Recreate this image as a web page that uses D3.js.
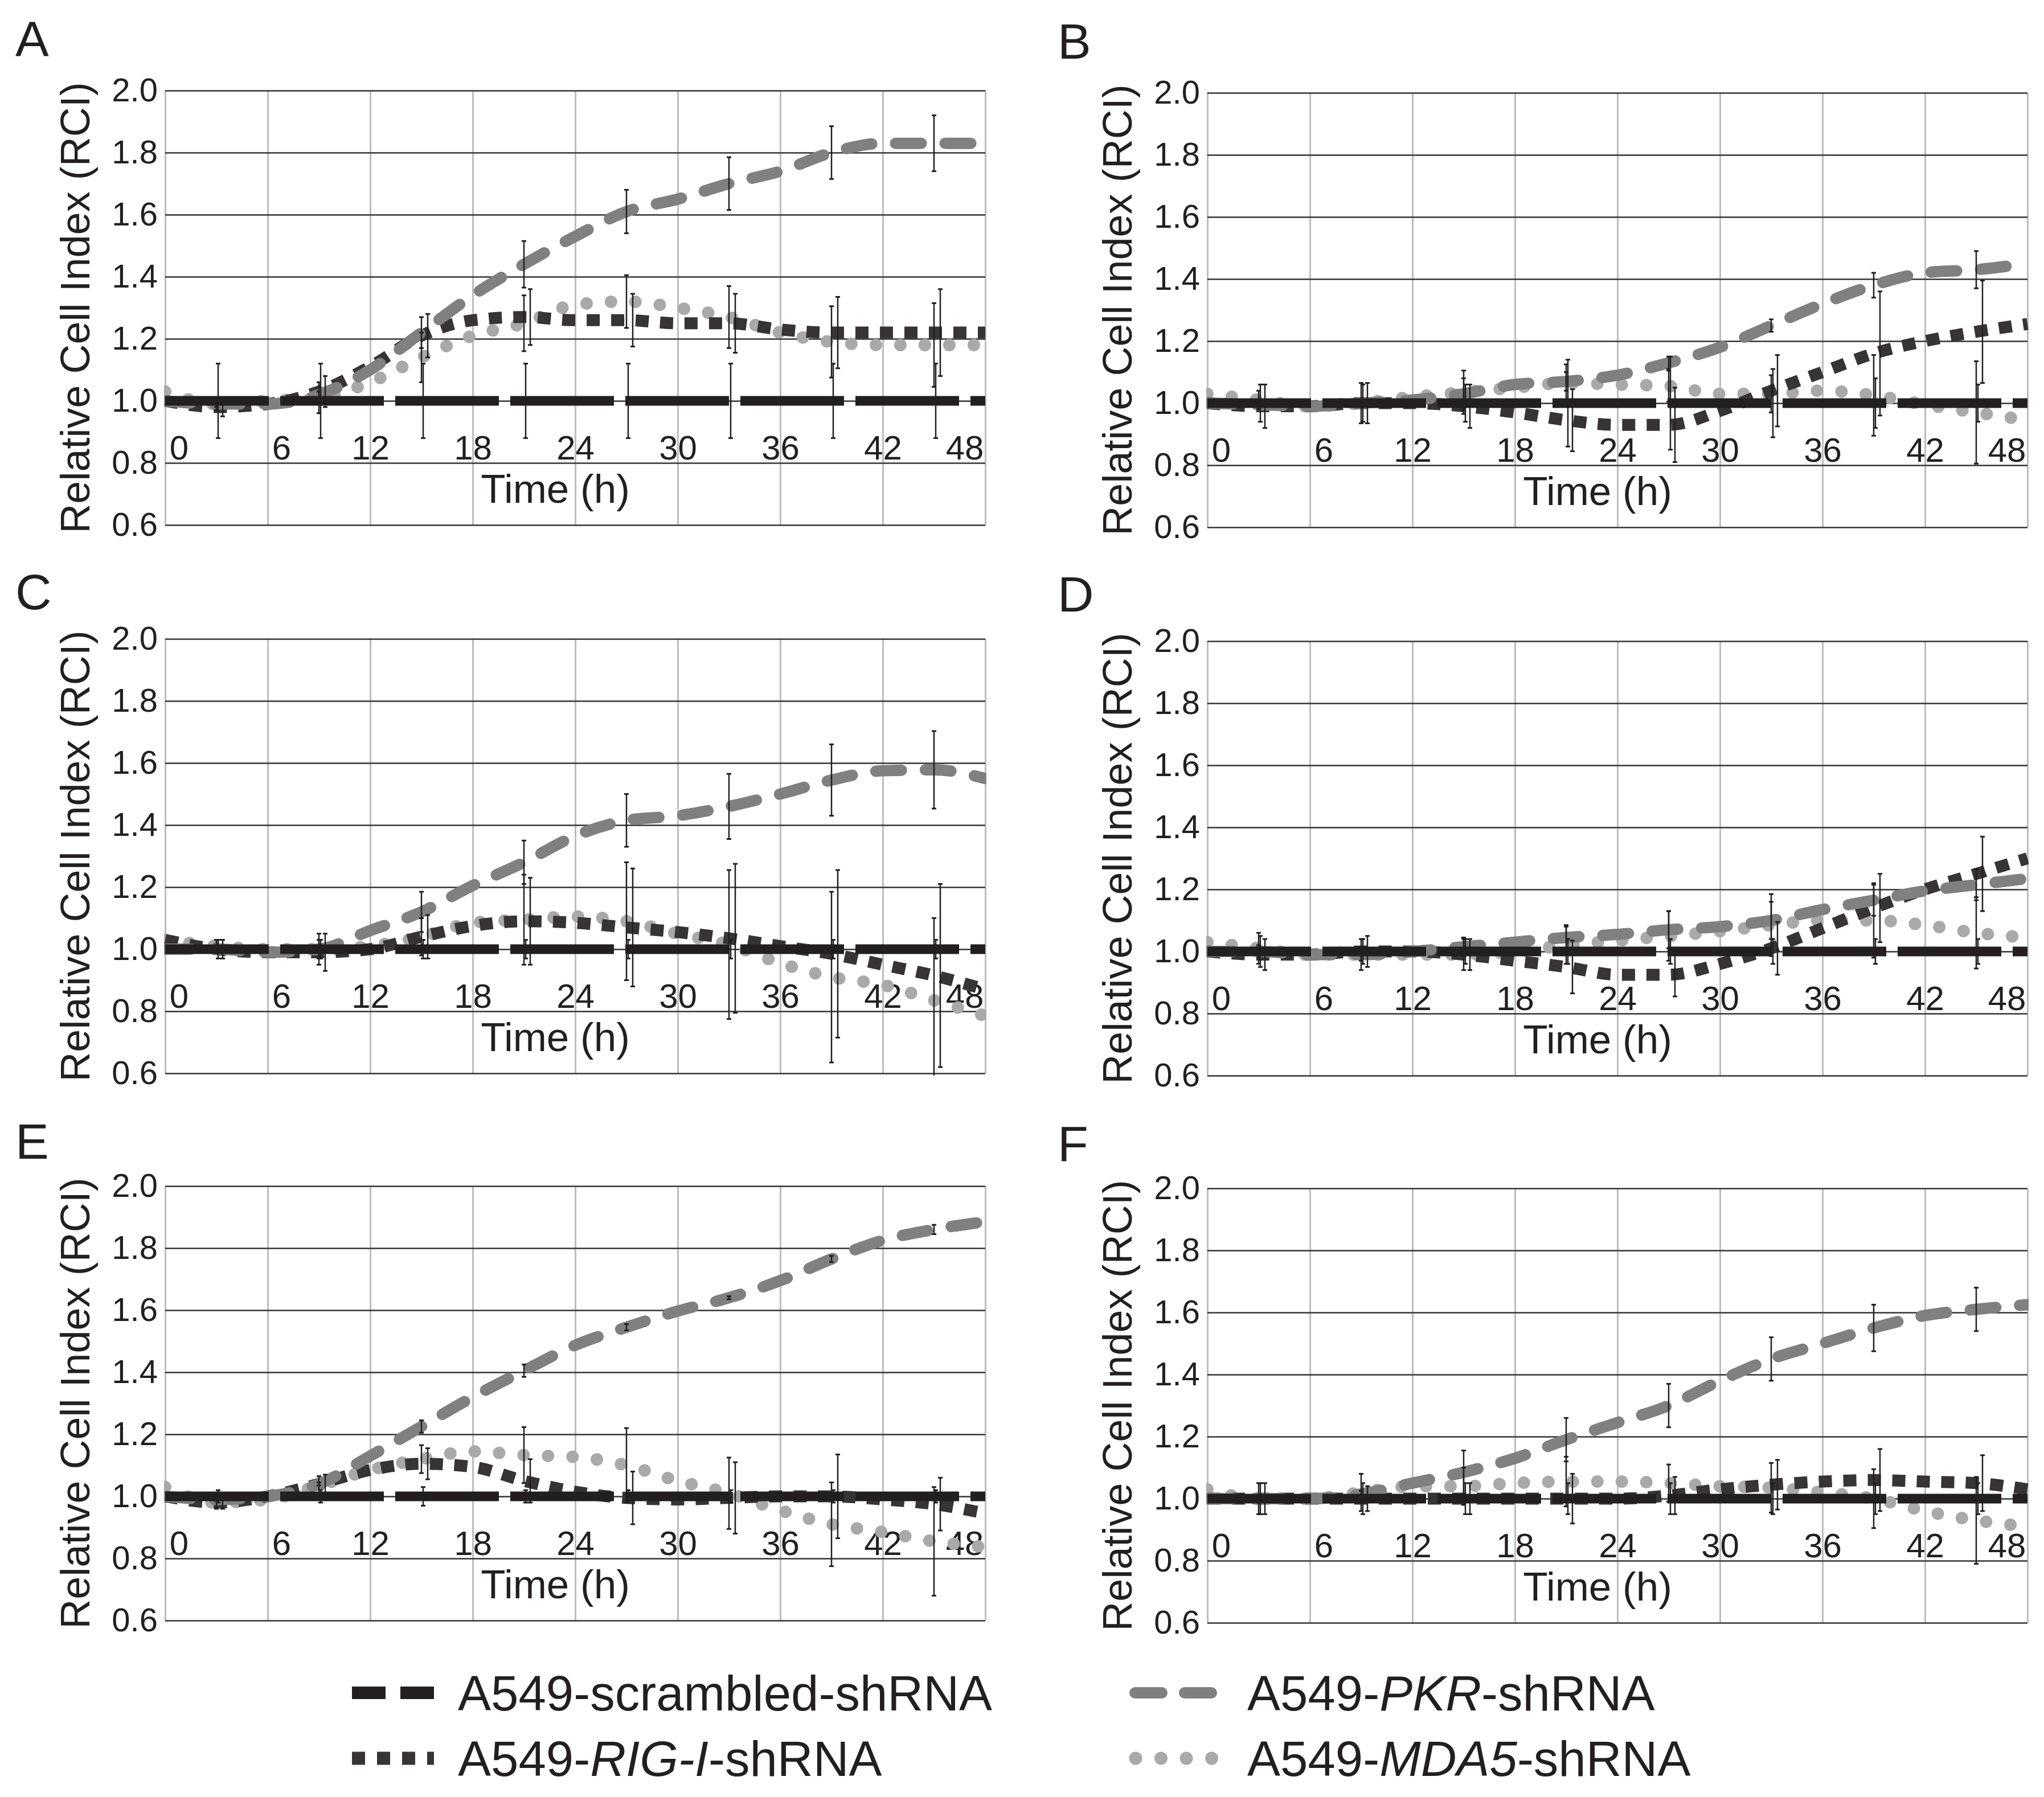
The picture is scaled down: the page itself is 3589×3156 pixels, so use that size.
<!DOCTYPE html>
<html>
<head>
<meta charset="utf-8">
<script src="https://cdn.jsdelivr.net/npm/d3@7"></script>
<style>
  body { margin: 0; background: #fff; }
  text { font-family: "Liberation Sans", Arial, sans-serif; fill: #231f20; }
</style>
</head>
<body>
<div id="chart"></div>
<script>
// time points (h), and where the error bars sit
const hours = [0, 3, 6, 9, 12, 15, 18, 21, 24, 27, 30, 33, 36, 39, 42, 45, 48]
const errorHours = [3, 9, 15, 21, 27, 33, 39, 45]
const xTicks = [0, 6, 12, 18, 24, 30, 36, 42, 48]
const yTicks = [0.6, 0.8, 1.0, 1.2, 1.4, 1.6, 1.8, 2.0]
const panelLetters = ["A", "B", "C", "D", "E", "F"]

// legend labels, odd pieces are italic
const seriesLabels = [
  ["A549-scrambled-shRNA"],
  ["A549-", "PKR", "-shRNA"],
  ["A549-", "RIG-I", "-shRNA"],
  ["A549-", "MDA5", "-shRNA"]
]

// RCI per panel, rows = scrambled, PKR, RIG-I, MDA5
const rciA = [
  [1, 1, 1, 1, 1, 1, 1, 1, 1, 1, 1, 1, 1, 1, 1, 1, 1],
  [1.00, 0.99, 0.99, 1.02, 1.10, 1.22, 1.34, 1.44, 1.53, 1.61, 1.65, 1.70, 1.74, 1.80, 1.83, 1.83, 1.83],
  [1.00, 0.98, 0.99, 1.03, 1.11, 1.21, 1.26, 1.27, 1.26, 1.26, 1.25, 1.25, 1.23, 1.22, 1.22, 1.22, 1.22],
  [1.03, 0.99, 1.00, 1.01, 1.06, 1.14, 1.21, 1.25, 1.31, 1.32, 1.30, 1.27, 1.22, 1.19, 1.18, 1.18, 1.18]
]
const rciB = [
  [1, 1, 1, 1, 1, 1, 1, 1, 1, 1, 1, 1, 1, 1, 1, 1, 1],
  [1.00, 0.995, 0.99, 1.00, 1.01, 1.03, 1.06, 1.07, 1.09, 1.13, 1.18, 1.25, 1.32, 1.38, 1.42, 1.43, 1.45],
  [1.00, 0.99, 0.99, 1.00, 1.00, 0.99, 0.97, 0.945, 0.93, 0.93, 0.975, 1.04, 1.10, 1.16, 1.20, 1.23, 1.255],
  [1.03, 1.01, 0.99, 1.00, 1.02, 1.035, 1.05, 1.065, 1.06, 1.055, 1.03, 1.03, 1.04, 1.025, 0.995, 0.97, 0.945]
]
const rciC = [
  [1, 1, 1, 1, 1, 1, 1, 1, 1, 1, 1, 1, 1, 1, 1, 1, 1],
  [1.00, 1.00, 0.99, 1.00, 1.06, 1.12, 1.205, 1.28, 1.365, 1.415, 1.43, 1.46, 1.50, 1.545, 1.575, 1.578, 1.55],
  [1.03, 1.00, 0.99, 0.99, 1.00, 1.04, 1.075, 1.09, 1.085, 1.07, 1.055, 1.035, 1.01, 0.985, 0.95, 0.915, 0.87],
  [1.03, 1.01, 1.00, 1.00, 1.01, 1.04, 1.085, 1.095, 1.105, 1.09, 1.05, 1.015, 0.955, 0.91, 0.885, 0.835, 0.785]
]
const rciD = [
  [1, 1, 1, 1, 1, 1, 1, 1, 1, 1, 1, 1, 1, 1, 1, 1, 1],
  [1.00, 1.00, 0.99, 0.99, 1.00, 1.015, 1.03, 1.045, 1.055, 1.07, 1.08, 1.10, 1.135, 1.165, 1.195, 1.215, 1.235],
  [1.00, 0.99, 0.99, 1.00, 1.00, 0.99, 0.97, 0.95, 0.925, 0.925, 0.96, 1.01, 1.075, 1.14, 1.20, 1.25, 1.30],
  [1.03, 1.01, 0.99, 0.99, 0.99, 0.99, 1.00, 1.02, 1.035, 1.05, 1.065, 1.085, 1.10, 1.10, 1.085, 1.06, 1.045]
]
const rciE = [
  [1, 1, 1, 1, 1, 1, 1, 1, 1, 1, 1, 1, 1, 1, 1, 1, 1],
  [1.00, 0.99, 1.00, 1.04, 1.13, 1.225, 1.32, 1.405, 1.487, 1.545, 1.597, 1.64, 1.695, 1.765, 1.825, 1.86, 1.885],
  [1.00, 0.98, 1.00, 1.04, 1.085, 1.105, 1.095, 1.05, 1.015, 0.995, 0.99, 0.995, 1.00, 1.00, 0.99, 0.975, 0.945],
  [1.03, 0.98, 0.99, 1.035, 1.085, 1.12, 1.145, 1.133, 1.127, 1.10, 1.05, 1.01, 0.955, 0.91, 0.885, 0.855, 0.837]
]
const rciF = [
  [1, 1, 1, 1, 1, 1, 1, 1, 1, 1, 1, 1, 1, 1, 1, 1, 1],
  [1.00, 1.00, 1.00, 1.015, 1.05, 1.085, 1.13, 1.19, 1.245, 1.30, 1.38, 1.45, 1.50, 1.55, 1.59, 1.61, 1.625],
  [1.00, 1.00, 1.00, 1.00, 1.00, 1.00, 1.00, 1.00, 1.00, 1.01, 1.03, 1.045, 1.055, 1.06, 1.055, 1.05, 1.03],
  [1.03, 1.00, 1.00, 1.02, 1.04, 1.04, 1.05, 1.055, 1.055, 1.05, 1.04, 1.035, 1.02, 1.00, 0.96, 0.93, 0.91]
]

// +/- error at errorHours, same row order
const errA = [
  [0.12, 0.12, 0.12, 0.12, 0.12, 0.12, 0.12, 0.12],
  [0.01, 0.01, 0.05, 0.075, 0.07, 0.085, 0.085, 0.09],
  [0.03, 0.05, 0.07, 0.09, 0.085, 0.095, 0.115, 0.14],
  [0.02, 0.05, 0.08, 0.09, 0.085, 0.10, 0.115, 0.135]
]
const errB = [
  [0.06, 0.06, 0.06, 0.14, 0.15, 0.11, 0.08, 0.06],
  [0.01, 0.01, 0.05, 0.03, 0.02, 0.02, 0.04, 0.06],
  [0.07, 0.065, 0.07, 0.10, 0.12, 0.115, 0.20, 0.165],
  [0.03, 0.065, 0.07, 0.06, 0.05, 0.06, 0.13, 0.165]
]
const errC = [
  [0.03, 0.03, 0.03, 0.03, 0.03, 0.03, 0.03, 0.03],
  [0.01, 0.03, 0.065, 0.07, 0.085, 0.105, 0.115, 0.125],
  [0.03, 0.06, 0.07, 0.14, 0.19, 0.24, 0.27, 0.295],
  [0.02, 0.05, 0.06, 0.145, 0.19, 0.24, 0.275, 0.265]
]
const errD = [
  [0.05, 0.04, 0.04, 0.04, 0.04, 0.04, 0.04, 0.04],
  [0.02, 0.02, 0.03, 0.04, 0.06, 0.06, 0.05, 0.05],
  [0.05, 0.05, 0.05, 0.085, 0.07, 0.085, 0.11, 0.12],
  [0.05, 0.05, 0.05, 0.06, 0.08, 0.10, 0.12, 0.115]
]
const errE = [
  [0.02, 0.02, 0.03, 0.02, 0.02, 0.02, 0.02, 0.02],
  [0.005, 0.005, 0.02, 0.02, 0.01, 0.005, 0.01, 0.015],
  [0.02, 0.03, 0.05, 0.07, 0.085, 0.115, 0.135, 0.085],
  [0.02, 0.03, 0.045, 0.09, 0.12, 0.115, 0.135, 0.175]
]
const errF = [
  [0.05, 0.05, 0.05, 0.05, 0.05, 0.05, 0.05, 0.05],
  [0.01, 0.01, 0.07, 0.07, 0.07, 0.07, 0.075, 0.07],
  [0.05, 0.04, 0.05, 0.08, 0.06, 0.08, 0.10, 0.09],
  [0.05, 0.06, 0.06, 0.08, 0.06, 0.08, 0.095, 0.14]
]

const rciTables = [rciA, rciB, rciC, rciD, rciE, rciF]
const errTables = [errA, errB, errC, errD, errE, errF]

// layout
const W = 3589, H = 3156
const plotW = 1440, plotH = 763
const colLeft = [290, 2120]
const rowTop = [159, 1122, 2083]
const rightShift = 4
const letterDrop = [60, 52, 48]

const styles = [
  { color: "#231f20", width: 17, dash: "182 20", cap: "butt" },
  { color: "#808080", width: 20, dash: "45 42", cap: "round" },
  { color: "#383334", width: 21, dash: "23 20", cap: "butt" },
  { color: "#a9a9a9", width: 22, dash: "0.01 43", cap: "round" }
]
const errShift = [3, 0, 11, 0]
const drawOrder = [3, 2, 1, 0]

const svg = d3.select("#chart").append("svg")
    .attr("width", W)
    .attr("height", H)

svg.append("rect").attr("width", W).attr("height", H).attr("fill", "#fff")

const x = d3.scaleLinear().domain([0, 48]).range([0, plotW])
const y = d3.scaleLinear().domain([0.6, 2.0]).range([plotH, 0])

const line = d3.line()
  .x((d, j) => x(hours[j]))
  .y(d => y(d))
  .curve(d3.curveMonotoneX)

panelLetters.forEach((letter, i) => {
  const col = i % 2
  const row = Math.floor(i / 2)
  const left = colLeft[col]
  const top = rowTop[row] + (col ? rightShift : 0)
  const rci = rciTables[i]
  const err = errTables[i]

  const g = svg.append("g").attr("transform", "translate(" + left + "," + top + ")")

  g.append("clipPath").attr("id", "clip" + i)
    .append("rect").attr("x", -2).attr("y", -4).attr("width", plotW + 4).attr("height", plotH + 8)

  // vertical grid
  const vgrid = g.append("g")
    .call(d3.axisBottom(x).tickValues(xTicks).tickSize(plotH).tickFormat(""))
  vgrid.select(".domain").remove()
  vgrid.selectAll("line").attr("stroke", "#bdbdbd").attr("stroke-width", 3)

  // horizontal grid
  const hgrid = g.append("g")
    .call(d3.axisRight(y).tickValues(yTicks).tickSize(plotW).tickFormat(""))
  hgrid.select(".domain").remove()
  hgrid.selectAll("line").attr("stroke", "#333").attr("stroke-width", 2.5)

  // y tick labels
  const yAxis = g.append("g")
    .call(d3.axisLeft(y).tickValues(yTicks).tickSize(0).tickPadding(13).tickFormat(d3.format(".1f")))
  yAxis.select(".domain").remove()
  yAxis.selectAll("text").attr("font-size", 58).attr("fill", "#231f20")

  // x tick labels, axis crosses at 1.0
  const xAxis = g.append("g")
    .attr("transform", "translate(0," + y(1.0) + ")")
    .call(d3.axisBottom(x).tickValues(xTicks).tickSize(0).tickPadding(60))
  xAxis.select(".domain").remove()
  xAxis.selectAll("text")
    .attr("font-size", 60)
    .attr("fill", "#231f20")
    .attr("dx", d => d < 10 ? 24 : 0)
    .attr("text-anchor", d => d === 48 ? "end" : "middle")
    .attr("x", d => d === 48 ? -3 : 0)

  g.append("text")
    .attr("x", 685)
    .attr("y", y(1.0) + 179)
    .attr("text-anchor", "middle")
    .attr("font-size", 71)
    .text("Time (h)")

  g.append("text")
    .attr("transform", "translate(-133," + (plotH / 2) + ") rotate(-90)")
    .attr("text-anchor", "middle")
    .attr("font-size", 72)
    .text("Relative Cell Index (RCI)")

  g.append("text")
    .attr("x", -263)
    .attr("y", -letterDrop[row])
    .attr("font-size", 88)
    .text(letter)

  // series
  const lines = g.append("g").attr("clip-path", "url(#clip" + i + ")")
  drawOrder.forEach(s => {
    lines.append("path")
      .datum(rci[s])
      .attr("d", line)
      .attr("fill", "none")
      .attr("stroke", styles[s].color)
      .attr("stroke-width", styles[s].width)
      .attr("stroke-dasharray", styles[s].dash)
      .attr("stroke-linecap", styles[s].cap)
  })

  // error bars
  const bars = g.append("g").attr("clip-path", "url(#clip" + i + ")")
  drawOrder.forEach(s => {
    const pts = errorHours.map((t, k) => ({
      t: t,
      v: rci[s][hours.indexOf(t)],
      e: err[s][k]
    }))
    const bg = bars.selectAll(null)
      .data(pts)
      .join("g")
      .attr("transform", d => "translate(" + (x(d.t) + errShift[s]) + ",0)")
      .attr("stroke", "#231f20")
    bg.append("line")
      .attr("y1", d => y(d.v - d.e)).attr("y2", d => y(d.v + d.e))
      .attr("stroke-width", 2.5)
    bg.append("line")
      .attr("x1", -4).attr("x2", 4)
      .attr("y1", d => y(d.v + d.e)).attr("y2", d => y(d.v + d.e))
      .attr("stroke-width", 3)
    bg.append("line")
      .attr("x1", -4).attr("x2", 4)
      .attr("y1", d => y(d.v - d.e)).attr("y2", d => y(d.v - d.e))
      .attr("stroke-width", 3)
  })
})

// legend
const legendPos = [
  { x0: 618, x1: 762, tx: 804, cy: 2973 },
  { x0: 1993, x1: 2129, tx: 2190, cy: 2973 },
  { x0: 618, x1: 762, tx: 804, cy: 3088 },
  { x0: 1994, x1: 2128, tx: 2190, cy: 3088 }
]
const legendStyle = [
  { dash: "59 26", width: 22 },
  { dash: "47 40", width: 20 },
  { dash: "23 21", width: 23 },
  { dash: "0.01 44.5", width: 23 }
]

const legend = svg.append("g")
seriesLabels.forEach((parts, s) => {
  const p = legendPos[s]
  legend.append("line")
    .attr("x1", p.x0).attr("x2", p.x1)
    .attr("y1", p.cy).attr("y2", p.cy)
    .attr("stroke", styles[s].color)
    .attr("stroke-width", legendStyle[s].width)
    .attr("stroke-dasharray", legendStyle[s].dash)
    .attr("stroke-linecap", styles[s].cap)

  const t = legend.append("text")
    .attr("x", p.tx)
    .attr("y", p.cy + 31)
    .attr("font-size", 87)
  parts.forEach((part, k) => {
    t.append("tspan")
      .attr("font-style", k % 2 ? "italic" : "normal")
      .text(part)
  })
})
</script>
</body>
</html>
